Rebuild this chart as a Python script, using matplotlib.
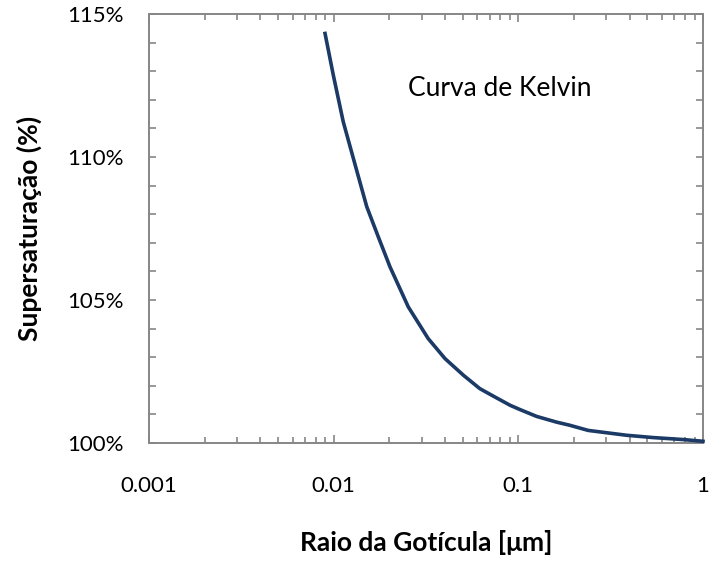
import matplotlib
matplotlib.use("Agg")
import matplotlib.pyplot as plt
from matplotlib.ticker import MultipleLocator, PercentFormatter, LogLocator, FixedFormatter, FixedLocator

plt.rcParams['font.family'] = ['Lato', 'DejaVu Sans']

# raio da goticula (um) e supersaturacao (%)
raio = [0.00898, 0.00955, 0.00995, 0.01127, 0.01386, 0.01511, 0.01744, 0.02018,
        0.02535, 0.03251, 0.0401, 0.0504, 0.0619, 0.0746, 0.0902, 0.102, 0.1256,
        0.161, 0.190, 0.239, 0.386, 0.537, 0.782, 1.0]
supersat = [114.32, 113.45, 112.87, 111.23, 109.13, 108.26, 107.21, 106.16,
            104.76, 103.65, 102.95, 102.37, 101.90, 101.61, 101.32, 101.17, 100.93,
            100.73, 100.62, 100.44, 100.27, 100.19, 100.12, 100.06]

x_ticks = [0.001, 0.01, 0.1, 1]
x_labels = ['0.001', '0.01', '0.1', '1']

fig = plt.figure(figsize=(7.09, 5.65), dpi=100)
ax = fig.add_axes([149/709, 122/565, 554/709, 429/565])

ax.plot(raio, supersat, color='#1B3A66', lw=2.6, clip_on=False, zorder=3,
        solid_joinstyle='round')

ax.set_xscale('log')
ax.set_xlim(0.001, 1)
ax.set_ylim(100, 115)
ax.xaxis.set_major_locator(FixedLocator(x_ticks))
ax.xaxis.set_major_formatter(FixedFormatter(x_labels))
ax.xaxis.set_minor_locator(LogLocator(base=10, subs=range(2, 10)))
ax.xaxis.set_minor_formatter(plt.NullFormatter())
ax.yaxis.set_major_locator(MultipleLocator(5))
ax.yaxis.set_minor_locator(MultipleLocator(1))
ax.yaxis.set_major_formatter(PercentFormatter(decimals=0))

for s in ax.spines.values():
    s.set_color('#868686')
    s.set_linewidth(1.4)

ax.tick_params(which='both', direction='in', top=True, right=True, color='#868686', width=1.2)
ax.tick_params(axis='x', which='major', length=6, pad=24, labelsize=16)
ax.tick_params(axis='x', which='minor', length=4)
ax.tick_params(axis='y', which='both', length=5)
ax.tick_params(axis='y', which='major', pad=18, labelsize=16)

ax.set_xlabel('Raio da Gotícula [μm]', fontsize=19, fontweight='bold', labelpad=24)
ax.set_ylabel('Supersaturação (%)', fontsize=19, fontweight='bold', labelpad=18)

ax.text(0.0252, 112.41, 'Curva de Kelvin', fontsize=19, va='center', ha='left')

fig.savefig('out.png', dpi=100)
